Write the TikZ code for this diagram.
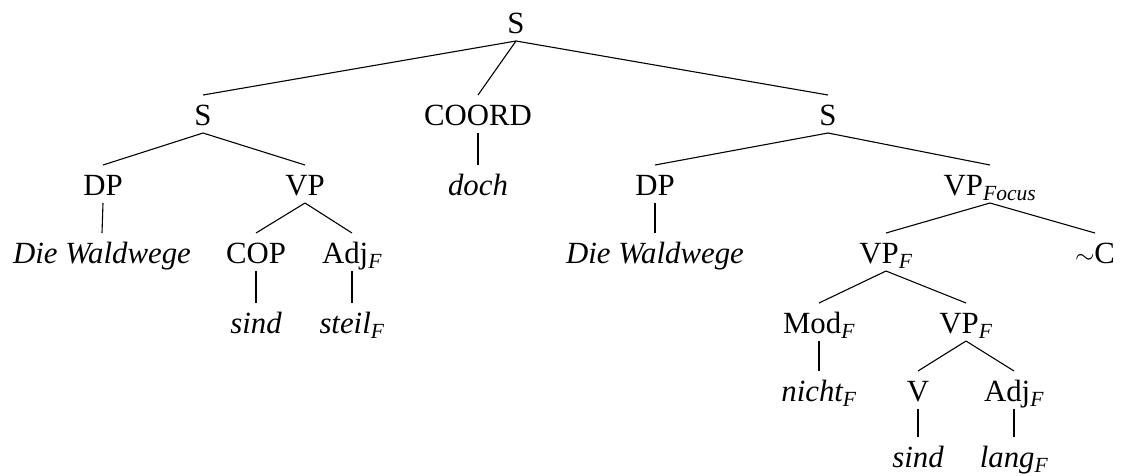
\documentclass[tikz,border=0pt]{standalone}
\usepackage{fontspec}
\setmainfont{Liberation Serif}
\usetikzlibrary{calc}
\newcommand{\lsub}[1]{\textsubscript{\itshape #1}}
\begin{document}
\begin{tikzpicture}[x=1pt,y=-1pt,
  lab/.style={anchor=base, inner sep=0pt, font=\fontsize{30.8}{36}\selectfont},
  edge/.style={line width=1.1pt}]
\useasboundingbox (0,0) rectangle (1134,475);
% row 0
\node[lab] (r) at (516,33) {S};
% row 1
\node[lab] (s1) at (203,125) {S};
\node[lab] (co) at (478,125) {COORD};
\node[lab] (s2) at (828,125) {S};
% row 2
\node[lab] (dp1) at (103,195) {DP};
\node[lab] (vp1) at (305,195) {VP};
\node[lab] (doch) at (478,195) {\itshape doch};
\node[lab] (dp2) at (655,195) {DP};
\node[lab] (vpf) at (990,195) {VP\lsub{Focus}};
% row 3
\node[lab] (dw1) at (102,263) {\itshape Die Waldwege};
\node[lab] (cop) at (256,263) {COP};
\node[lab] (adj1) at (352,263) {Adj\lsub{F}};
\node[lab] (dw2) at (655,263) {\itshape Die Waldwege};
\node[lab] (vpF) at (886,263) {VP\lsub{F}};
\node[lab] (tc) at (1095,263) {$\sim$C};
% row 4
\node[lab] (sind1) at (256,333) {\itshape sind};
\node[lab] (steil) at (352,333) {\itshape steil\lsub{F}};
\node[lab] (mod) at (819,333) {Mod\lsub{F}};
\node[lab] (vpF2) at (966,333) {VP\lsub{F}};
% row 5
\node[lab] (nicht) at (819,401) {\itshape nicht\lsub{F}};
\node[lab] (v) at (918,401) {V};
\node[lab] (adj2) at (1014,401) {Adj\lsub{F}};
% row 6
\node[lab] (sind2) at (918,467) {\itshape sind};
\node[lab] (lang) at (1014,467) {\itshape lang\lsub{F}};
% edges
\foreach \p/\c in {r/s1, r/co, r/s2, s1/dp1, s1/vp1, co/doch, s2/dp2, s2/vpf,
  dp1/dw1, vp1/cop, vp1/adj1, dp2/dw2, vpf/vpF, vpf/tc, cop/sind1, adj1/steil,
  vpF/mod, vpF/vpF2, mod/nicht, vpF2/v, vpF2/adj2, v/sind2, adj2/lang}
  \draw[edge] ($(\p.base)+(0,8)$) -- ($(\c.base)+(0,-30)$);
\end{tikzpicture}
\end{document}
